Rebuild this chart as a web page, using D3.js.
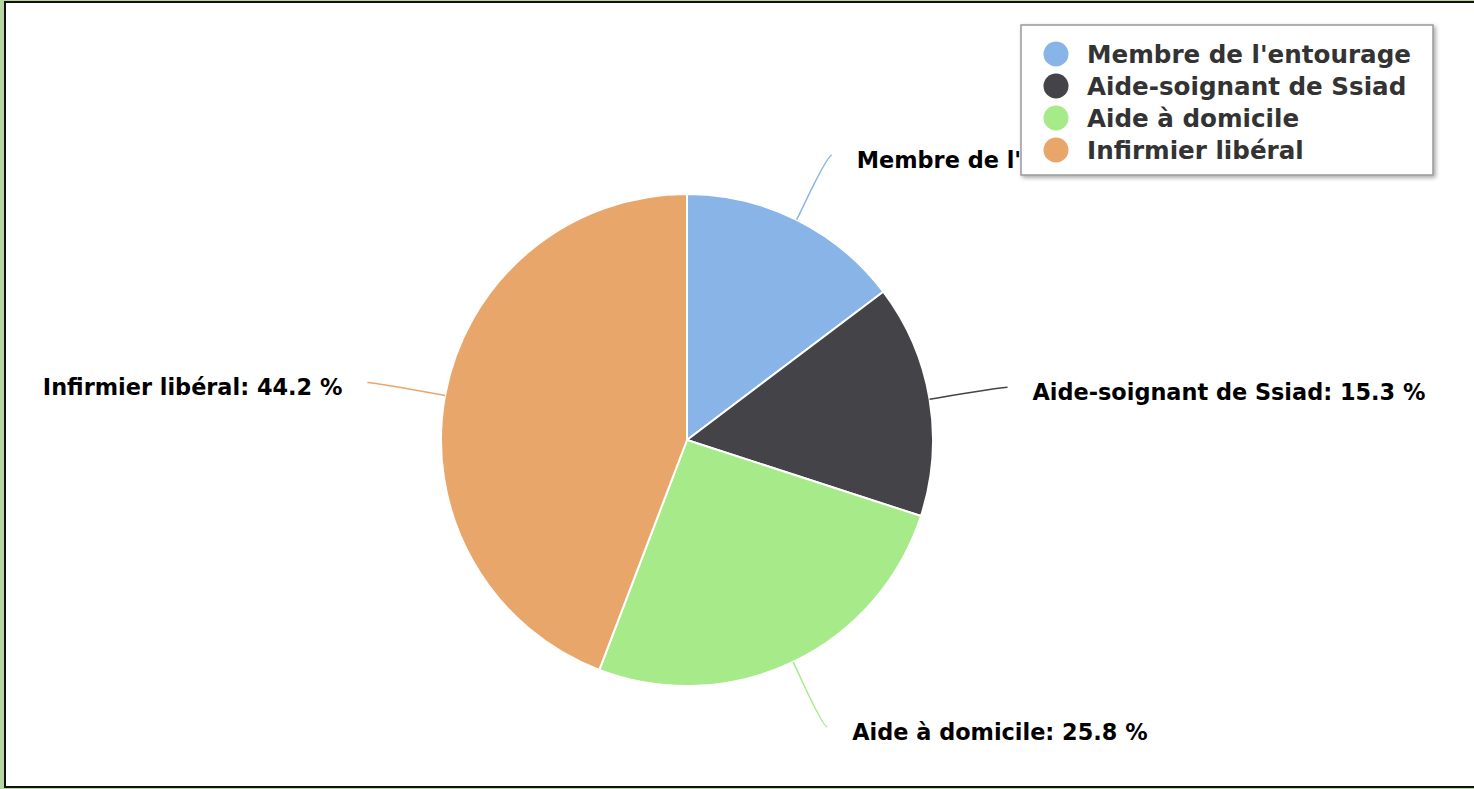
<!doctype html>
<html lang="fr">
<head>
<meta charset="UTF-8">
<title>Pie chart</title>
<style>
	html, body { margin: 0; padding: 0; background: #b6d7a2; }
	svg { display: block; }
	text { font-family: "DejaVu Sans", Verdana, sans-serif; font-weight: bold; }
</style>
</head>
<body>
<script src="https://cdn.jsdelivr.net/npm/d3@7"></script>
<script>
	var categories = ["Membre de l'entourage", "Aide-soignant de Ssiad", "Aide à domicile", "Infirmier libéral"];
	var values = [14.7, 15.3, 25.8, 44.2];
	var colors = ['#88b4e8', '#434348', '#a6ea89', '#e9a66a'];

	var w = 1474,
		h = 789,
		cx = 687,
		cy = 440,
		radius = 246,
		labelRx = 325,
		labelRy = 318;

	var svg = d3.select('body')
		.append('svg')
		.attr('width', w)
		.attr('height', h);

	// frame
	svg.append('rect')
		.attr('x', 4).attr('y', 1)
		.attr('width', w).attr('height', h - 2)
		.attr('fill', '#111');
	svg.append('rect')
		.attr('x', 6).attr('y', 3)
		.attr('width', w).attr('height', h - 6)
		.attr('fill', '#fff');

	var pie = d3.pie().sort(null);
	var arc = d3.arc().innerRadius(0).outerRadius(radius);
	var color = d3.scaleOrdinal().domain(categories).range(colors);

	var g = svg.append('g')
		.attr('transform', 'translate(' + cx + ',' + cy + ')');

	var arcs = pie(values);

	g.selectAll('path.slice')
		.data(arcs)
		.enter()
		.append('path')
		.attr('class', 'slice')
		.attr('d', arc)
		.attr('fill', function(d, i) { return color(categories[i]); })
		.attr('stroke', '#fff')
		.attr('stroke-width', 2)
		.attr('stroke-linejoin', 'round');

	function pt(a, r) {
		return [Math.sin(a) * r, -Math.cos(a) * r];
	}
	function labelPt(a) {
		return [Math.sin(a) * labelRx, -Math.cos(a) * labelRy];
	}
	function mid(d) {
		return (d.startAngle + d.endAngle) / 2;
	}

	// connectors (soft curve like the original)
	g.selectAll('path.connector')
		.data(arcs)
		.enter()
		.append('path')
		.attr('class', 'connector')
		.attr('fill', 'none')
		.attr('stroke', function(d, i) { return color(categories[i]); })
		.attr('stroke-width', 1.5)
		.attr('d', function(d) {
			var a = mid(d),
				right = a < Math.PI,
				touch = pt(a, radius),
				brk = pt(a, radius + 8),
				lab = labelPt(a);
			return 'M' + lab[0] + ',' + lab[1] +
				'C' + (lab[0] + (right ? -5 : 5)) + ',' + lab[1] + ' ' +
				(2 * brk[0] - touch[0]) + ',' + (2 * brk[1] - touch[1]) + ' ' +
				brk[0] + ',' + brk[1] +
				'L' + touch[0] + ',' + touch[1];
		});

	g.selectAll('text.label')
		.data(arcs)
		.enter()
		.append('text')
		.attr('class', 'label')
		.attr('x', function(d) {
			var a = mid(d);
			return labelPt(a)[0] + (a < Math.PI ? 25 : -25);
		})
		.attr('y', function(d) {
			return labelPt(mid(d))[1] + 5;
		})
		.attr('dy', '0.35em')
		.attr('text-anchor', function(d) {
			return mid(d) < Math.PI ? 'start' : 'end';
		})
		.attr('font-size', 22.4)
		.attr('fill', '#000')
		.text(function(d, i) { return categories[i] + ': ' + d3.format('.1f')(values[i]) + ' %'; });

	// legend
	var legend = svg.append('g')
		.attr('transform', 'translate(1021,25)');

	var filter = svg.append('defs').append('filter')
		.attr('id', 'shadow')
		.attr('x', '-5%').attr('y', '-5%')
		.attr('width', '115%').attr('height', '120%');
	filter.append('feDropShadow')
		.attr('dx', 2).attr('dy', 2)
		.attr('stdDeviation', 2)
		.attr('flood-color', '#000')
		.attr('flood-opacity', 0.35);

	legend.append('rect')
		.attr('width', 412)
		.attr('height', 150)
		.attr('fill', '#fff')
		.attr('stroke', '#999')
		.attr('stroke-width', 1.5)
		.attr('filter', 'url(#shadow)');

	var item = legend.selectAll('g.item')
		.data(categories)
		.enter()
		.append('g')
		.attr('class', 'item')
		.attr('transform', function(d, i) { return 'translate(0,' + (29 + i * 32) + ')'; });

	item.append('circle')
		.attr('cx', 35)
		.attr('r', 12.5)
		.attr('fill', function(d) { return color(d); });

	item.append('text')
		.attr('x', 66)
		.attr('dy', '0.35em')
		.attr('font-size', 24.6)
		.attr('fill', '#333')
		.text(function(d) { return d; });
</script>
</body>
</html>
